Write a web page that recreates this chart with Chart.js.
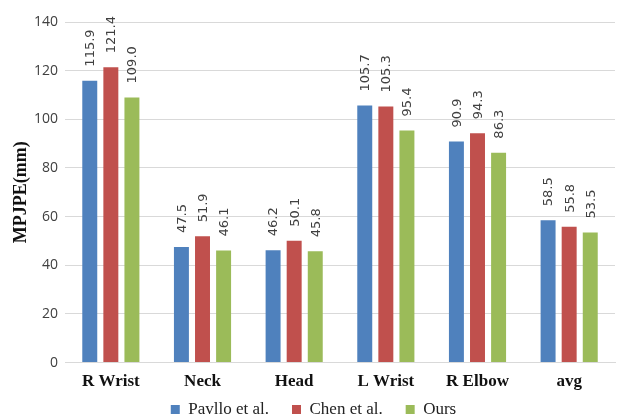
<!DOCTYPE html>
<html>
<head>
<meta charset="utf-8">
<script src="https://cdn.jsdelivr.net/npm/chart.js@4.4.0/dist/chart.umd.min.js"></script>
<style>
  html, body { margin: 0; padding: 0; background: #fff; }
  #wrap { width: 620px; height: 417px; }
</style>
</head>
<body>
<div id="wrap"><canvas id="myChart" width="620" height="417"></canvas></div>
<script>
const joints = ['R Wrist', 'Neck', 'Head', 'L Wrist', 'R Elbow', 'avg'];
const pavllo = [115.9, 47.5, 46.2, 105.7, 90.9, 58.5];
const chen = [121.4, 51.9, 50.1, 105.3, 94.3, 55.8];
const ours = [109.0, 46.1, 45.8, 95.4, 86.3, 53.5];
const yTicks = [0, 20, 40, 60, 80, 100, 120, 140];

// value labels written upwards above each bar
const barLabels = {
  id: 'barLabels',
  afterDatasetsDraw(chart) {
    const ctx = chart.ctx;
    ctx.save();
    ctx.font = '13px "DejaVu Sans", sans-serif';
    ctx.fillStyle = '#404040';
    ctx.textAlign = 'left';
    ctx.textBaseline = 'middle';
    chart.data.datasets.forEach((ds, i) => {
      chart.getDatasetMeta(i).data.forEach((bar, j) => {
        ctx.save();
        ctx.translate(bar.x + 1, bar.y - 14);
        ctx.rotate(-Math.PI / 2);
        ctx.fillText(ds.data[j].toFixed(1), 0, 0);
        ctx.restore();
      });
    });
    ctx.restore();
  }
};

// wide gaps between legend items but a short legend box
const legendTweak = {
  id: 'legendTweak',
  beforeLayout(chart) {
    const lg = chart.legend;
    if (lg && !lg._tweaked) {
      const fit = lg.fit;
      lg.fit = function () { fit.call(this); this.height -= 26; };
      lg._tweaked = true;
    }
  },
  afterLayout(chart) {
    if (chart.legend) chart.legend.top -= 15;
  }
};

const ctx = document.getElementById('myChart').getContext('2d');
new Chart(ctx, {
  type: 'bar',
  data: {
    labels: joints,
    datasets: [
      { label: 'Pavllo et al.', data: pavllo, backgroundColor: '#4F81BD' },
      { label: 'Chen et al.', data: chen, backgroundColor: '#C0504D' },
      { label: 'Ours', data: ours, backgroundColor: '#9BBB59' }
    ]
  },
  options: {
    responsive: false,
    animation: false,
    layout: { padding: { left: 12, right: 5, top: 22, bottom: 0 } },
    datasets: { bar: { categoryPercentage: 0.69, barPercentage: 0.71 } },
    plugins: {
      legend: {
        position: 'bottom',
        labels: {
          boxWidth: 9, boxHeight: 9, padding: 23,
          color: '#222',
          font: { family: '"Liberation Serif", serif', size: 17 }
        }
      },
      tooltip: { enabled: false }
    },
    scales: {
      x: {
        grid: { display: false },
        border: { color: '#d9d9d9' },
        ticks: {
          color: '#111',
          padding: 1,
          font: { family: '"Liberation Serif", serif', size: 17, weight: 'bold' }
        }
      },
      y: {
        min: 0, max: 140,
        afterBuildTicks(axis) { axis.ticks = yTicks.map(v => ({ value: v })); },
        grid: { color: '#d9d9d9', drawTicks: false },
        border: { display: false },
        ticks: {
          color: '#404040',
          padding: 7,
          font: { family: '"Open Sans", sans-serif', size: 14 }
        },
        title: {
          display: true,
          text: 'MPJPE(mm)',
          color: '#111',
          padding: { top: 0, bottom: -3 },
          font: { family: '"Liberation Serif", serif', size: 18, weight: 'bold', lineHeight: 1 }
        }
      }
    }
  },
  plugins: [barLabels, legendTweak]
});
</script>
</body>
</html>
